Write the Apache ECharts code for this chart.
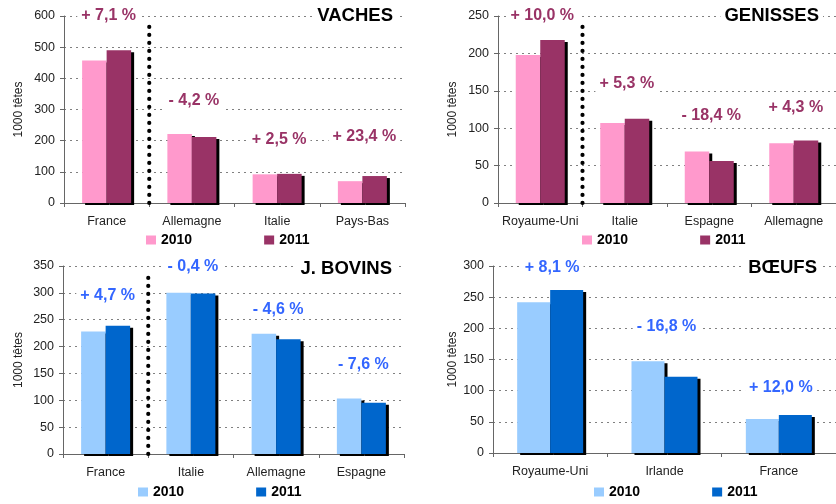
<!DOCTYPE html>
<html><head><meta charset="utf-8">
<script src="https://cdn.jsdelivr.net/npm/echarts@6/dist/echarts.min.js"></script>
<style>html,body{margin:0;padding:0;background:#fff}#c{width:836px;height:504px}</style>
</head><body><div id="c"></div>
<script>
// ---- data ----
const years = ['2010', '2011'];

const vachesCats = ['France', 'Allemagne', 'Italie', 'Pays-Bas'];
const vaches2010 = [457, 221, 92, 70];
const vaches2011 = [490, 212, 93.5, 86.5];
const vachesChange = ['+ 7,1 %', '- 4,2 %', '+ 2,5 %', '+ 23,4 %'];
const vachesChangeAt = [600, 327, 205, 212];

const genissesCats = ['Royaume-Uni', 'Italie', 'Espagne', 'Allemagne'];
const genisses2010 = [198, 107, 69, 80];
const genisses2011 = [218, 112.7, 56.3, 83.4];
const genissesChange = ['+ 10,0 %', '+ 5,3 %', '- 18,4 %', '+ 4,3 %'];
const genissesChangeAt = [250, 159, 117, 128];

const bovinsCats = ['France', 'Italie', 'Allemagne', 'Espagne'];
const bovins2010 = [228, 300, 224, 103.5];
const bovins2011 = [238.7, 298.8, 213.7, 95.6];
const bovinsChange = ['+ 4,7 %', '- 0,4 %', '- 4,6 %', '- 7,6 %'];
const bovinsChangeAt = [294, 349, 268, 167];

const boeufsCats = ['Royaume-Uni', 'Irlande', 'France'];
const boeufs2010 = [242, 147, 54.5];
const boeufs2011 = [261.6, 122.3, 61];
const boeufsChange = ['+ 8,1 %', '- 16,8 %', '+ 12,0 %'];
const boeufsChangeAt = [298, 202, 104.8];

// dotted separator drawn after this category (null = none)
const vachesSepAfter = 0, genissesSepAfter = 0, bovinsSepAfter = 0, boeufsSepAfter = null;

// ---- styling / layout ----
const FONT = '"Liberation Sans", Arial, sans-serif';
const PINK = ['#FF99CC', '#993366'], PINK_LBL = '#993366';
const BLUE = ['#99CCFF', '#0066CC'], BLUE_LBL = '#3366FF';

const panels = [
  { title: 'VACHES', cats: vachesCats, a: vaches2010, b: vaches2011, chg: vachesChange, at: vachesChangeAt,
    max: 600, step: 100, col: PINK, lbl: PINK_LBL, sep: vachesSepAfter,
    grid: { left: 64, top: 16, width: 341, height: 187 }, nameGap: 39, barW: 24.5,
    titlePos: { right: 439, top: 5 }, legendPos: { left: 146, top: 233 } },
  { title: 'GENISSES', cats: genissesCats, a: genisses2010, b: genisses2011, chg: genissesChange, at: genissesChangeAt,
    max: 250, step: 50, col: PINK, lbl: PINK_LBL, sep: genissesSepAfter,
    grid: { left: 498, top: 16, width: 339, height: 187 }, nameGap: 39, barW: 24.5,
    titlePos: { right: 13, top: 5 }, legendPos: { left: 582, top: 233 } },
  { title: 'J. BOVINS', cats: bovinsCats, a: bovins2010, b: bovins2011, chg: bovinsChange, at: bovinsChangeAt,
    max: 350, step: 50, col: BLUE, lbl: BLUE_LBL, sep: bovinsSepAfter,
    grid: { left: 63, top: 266, width: 341, height: 188 }, nameGap: 38, barW: 24.5,
    titlePos: { right: 440, top: 258 }, legendPos: { left: 138, top: 485 } },
  { title: 'BŒUFS', cats: boeufsCats, a: boeufs2010, b: boeufs2011, chg: boeufsChange, at: boeufsChangeAt,
    max: 300, step: 50, col: BLUE, lbl: BLUE_LBL, sep: boeufsSepAfter,
    grid: { left: 493, top: 266, width: 343, height: 187 }, nameGap: 34, barW: 33,
    titlePos: { right: 15, top: 257 }, legendPos: { left: 594, top: 485 } }
];

const option = { animation: false, backgroundColor: '#fff', textStyle: { fontFamily: FONT },
  grid: [], xAxis: [], yAxis: [], series: [], title: [], legend: [] };

panels.forEach((p, i) => {
  option.grid.push(Object.assign({ containLabel: false }, p.grid));
  option.xAxis.push({
    type: 'category', gridIndex: i, data: p.cats,
    axisLine: { lineStyle: { color: '#666', width: 1 } },
    axisTick: { show: true, length: 4, lineStyle: { color: '#666' } },
    axisLabel: { color: '#222', fontSize: 12.5, margin: 12, interval: 0, fontFamily: FONT },
    splitLine: { show: false }
  });
  option.yAxis.push({
    type: 'value', gridIndex: i, min: 0, max: p.max, interval: p.step,
    name: '1000 têtes', nameLocation: 'middle', nameGap: p.nameGap, nameRotate: 90,
    nameTextStyle: { color: '#222', fontSize: 12, fontFamily: FONT },
    axisLine: { show: true, lineStyle: { color: '#666' } },
    axisTick: { show: true, length: 4, lineStyle: { color: '#666' } },
    axisLabel: { color: '#222', fontSize: 12.5, margin: 9, fontFamily: FONT },
    splitLine: { show: true, lineStyle: { color: '#808080', type: [2, 4], width: 1 } }
  });
  const shadow = { shadowColor: '#000', shadowBlur: 0, shadowOffsetX: 3, shadowOffsetY: 2 };
  option.series.push({
    type: 'bar', name: years[0], xAxisIndex: i, yAxisIndex: i, data: p.a,
    barWidth: p.barW, barGap: '0%',
    itemStyle: Object.assign({ color: p.col[0] }, shadow)
  });
  option.series.push({
    type: 'bar', name: years[1], xAxisIndex: i, yAxisIndex: i, data: p.b,
    barWidth: p.barW, barGap: '0%',
    itemStyle: Object.assign({ color: p.col[1] }, shadow)
  });
  // percentage-change annotations
  option.series.push({
    type: 'scatter', name: 'chg' + i, xAxisIndex: i, yAxisIndex: i, silent: true, z: 5,
    symbolSize: 0, itemStyle: { color: 'transparent', opacity: 1 },
    label: { show: true, position: 'inside', formatter: (d) => d.name, opacity: 1,
      offset: [2, 0],
      color: p.lbl, fontSize: 16, fontWeight: 'bold', fontFamily: FONT,
      backgroundColor: '#fff', padding: [1, 4] },
    data: p.chg.map((t, k) => ({ name: t, value: [k, p.at[k]] }))
  });
  if (p.sep !== null) {
    const maxV = p.max;
    option.series.push({
      type: 'custom', name: 'sep' + i, xAxisIndex: i, yAxisIndex: i, silent: true, z: 3,
      data: [[p.sep]],
      renderItem: (params, api) => {
        const band = api.size([1, 0])[0];
        const x = api.coord([api.value(0), 0])[0] + band / 2;
        const yb = api.coord([api.value(0), 0])[1];
        const yt = api.coord([api.value(0), maxV])[1] + 6;
        return { type: 'line', shape: { x1: x, y1: yb, x2: x, y2: yt },
          style: { stroke: '#000', lineWidth: 4.2, lineDash: [0.1, 7.9], lineCap: 'round' } };
      }
    });
  }
  option.title.push(Object.assign({
    text: p.title, backgroundColor: '#fff', padding: [1, 4],
    textStyle: { fontSize: 18.5, fontWeight: 'bold', color: '#000', fontFamily: FONT }
  }, p.titlePos));
  option.legend.push(Object.assign({
    orient: 'horizontal', padding: 0, itemGap: 72, itemWidth: 10, itemHeight: 9,
    selectedMode: false,
    textStyle: { fontSize: 14, fontWeight: 'bold', color: '#000', fontFamily: FONT },
    data: years.map((y, k) => ({ name: y, icon: 'rect', itemStyle: { color: p.col[k], shadowColor: 'transparent' } }))
  }, p.legendPos));
});

const chart = echarts.init(document.getElementById('c'), null, { renderer: 'canvas' });
chart.setOption(option);
</script>
</body></html>
